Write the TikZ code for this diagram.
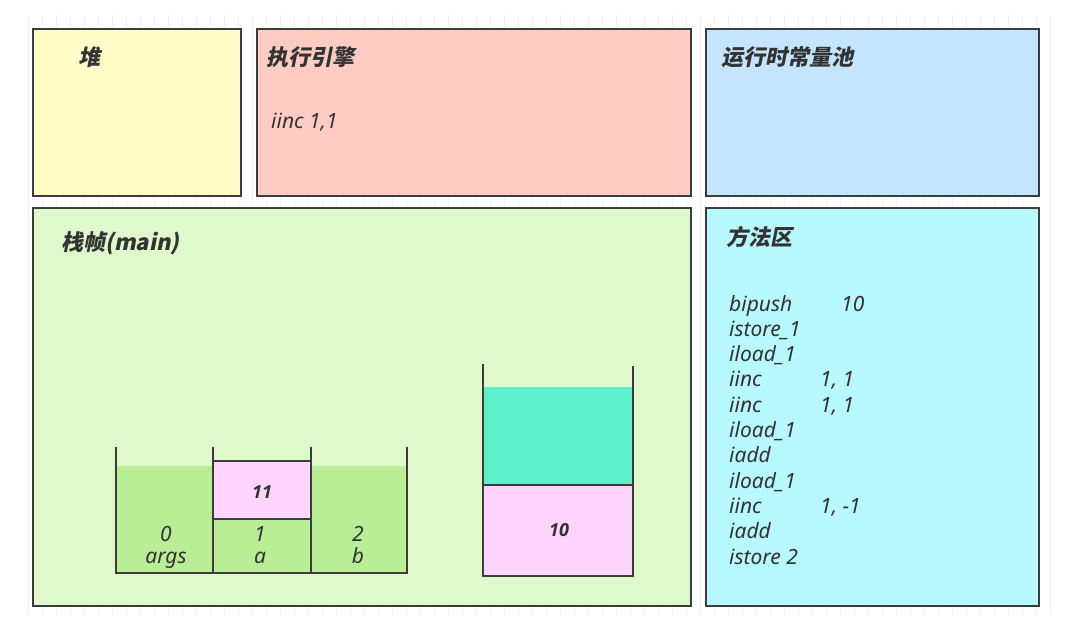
\documentclass[tikz,border=0pt]{standalone}
\usepackage{fontspec}
\setmainfont{Noto Sans}
\newfontfamily\valf{Open Sans}
\newfontfamily\cjk[FakeSlant=0.2]{Noto Sans CJK SC}
\definecolor{txt}{HTML}{333333}
\definecolor{edge}{HTML}{3C3C3C}
\definecolor{heapc}{HTML}{FFFBC6}
\definecolor{execc}{HTML}{FFCCC4}
\definecolor{poolc}{HTML}{C5E5FF}
\definecolor{framec}{HTML}{DFF8CC}
\definecolor{methc}{HTML}{B8F8FF}
\definecolor{slotc}{HTML}{BAEE96}
\definecolor{pinkc}{HTML}{FFD4FF}
\definecolor{tealc}{HTML}{5EEFCC}
\definecolor{gridc}{HTML}{F1F1F1}
\begin{document}
\begin{tikzpicture}[x=1pt,y=-1pt,
  area/.style={draw=edge,line width=1.3pt},
  wall/.style={draw=edge,line width=2.4pt},
  head/.style={anchor=west,inner sep=0pt,text=txt,font=\cjk\bfseries\fontsize{22}{26}\selectfont},
  code/.style={anchor=base west,inner sep=0pt,text=txt,font=\itshape\fontsize{21}{25}\selectfont},
  val/.style={inner sep=0pt,text=txt,font=\valf\bfseries\itshape\fontsize{18}{22}\selectfont},
  lbl/.style={anchor=base,inner sep=0pt,text=txt,font=\itshape\fontsize{21}{25}\selectfont}]
\useasboundingbox (0,0) rectangle (1070,620);
\fill[white] (0,0) rectangle (1070,620);
\draw[gridc,line width=0.6pt,step=14] (19,15) grid (1053,615);
% areas
\path[area,fill=heapc]  (33,29) rectangle (241,196);
\path[area,fill=execc]  (257,29) rectangle (691,196);
\path[area,fill=poolc]  (706,29) rectangle (1039,196);
\path[area,fill=framec] (33,208) rectangle (691,606);
\path[area,fill=methc]  (706,208) rectangle (1039,606);
% headings
\node[head] (hheap) at (78,57) {堆};
\node[head] (hexec) at (266,57) {执行引擎};
\node[head] (hpool) at (721,57) {运行时常量池};
\node[head] (hframe) at (61,243) {栈帧(main)};
\node[head] (hmeth) at (726,237) {方法区};
\node[code] (cur) at (271,129) {iinc 1,1};
% method area code
\foreach \t/\a [count=\i from 0] in {bipush/{},istore\_1/{},iload\_1/{},iinc/{1, 1},iinc/{1, 1},iload\_1/{},iadd/{},iload\_1/{},iinc/{1, -1},iadd/{},istore 2/{}}{
  \node[code] (m\i) at (729,{311+25.3*\i}) {\t};
  \node[code] (n\i) at (820,{311+25.3*\i}) {\a};
}
\node[code] (ten) at (841,311) {10};
% local variable table
\fill[slotc] (116,466) rectangle (213,573);
\fill[slotc] (311,466) rectangle (407,573);
\fill[slotc] (213,519) rectangle (311,573);
\path[draw=edge,line width=1.3pt,fill=pinkc] (213,461) rectangle (311,519);
\node[val] (v11) at (262,492) {11};
\draw[wall] (116,447) -- (116,573) -- (407,573) -- (407,447);
\draw[wall] (213,447) -- (213,573);
\draw[wall] (311,447) -- (311,573);
\node[lbl] (s0) at (166,541) {0};
\node[lbl] (l0) at (166,563) {args};
\node[lbl] (s1) at (260,541) {1};
\node[lbl] (l1) at (260,563) {a};
\node[lbl] (s2) at (358,541) {2};
\node[lbl] (l2) at (358,563) {b};
% operand stack
\fill[tealc] (483,387) rectangle (633,485);
\fill[pinkc] (483,485) rectangle (633,576);
\draw[draw=edge,line width=1.3pt] (483,485) -- (633,485);
\node[val] (v10) at (559,530) {10};
\draw[wall] (483,364) -- (483,576) -- (633,576) -- (633,366);
\end{tikzpicture}
\end{document}
